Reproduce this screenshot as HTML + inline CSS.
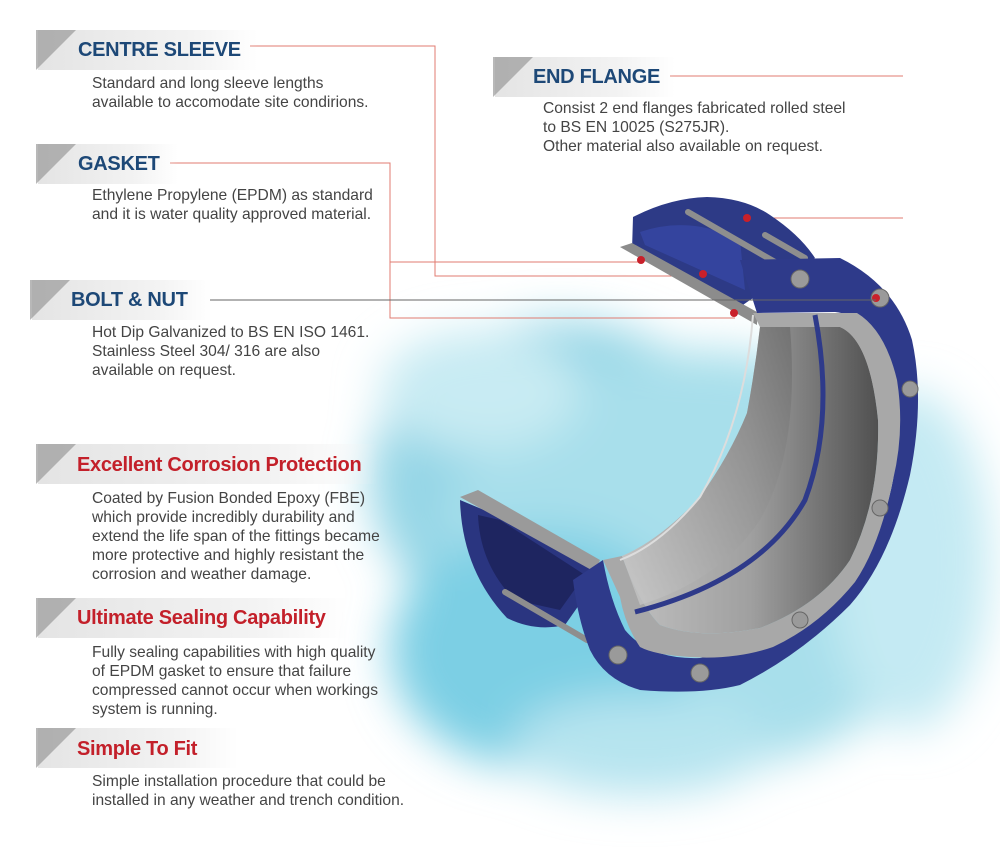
<!DOCTYPE html>
<html><head><meta charset="utf-8"><style>
body{margin:0;width:1000px;height:858px;background:#fff;position:relative;overflow:hidden;font-family:"Liberation Sans",sans-serif}
.bn{position:absolute;height:40px;background:linear-gradient(90deg,#e4e4e4,#f3f3f3 70%,rgba(255,255,255,0));}
.bn:before{content:"";position:absolute;left:-2px;top:0;width:0;height:0;border-top:40px solid #9a9a9a;border-right:40px solid transparent;opacity:.7}
.h{position:absolute;font-weight:bold;font-size:20px;letter-spacing:-0.3px}
.b{color:#1d4877}.r{color:#c3202a;font-size:20px}
.t{position:absolute;font-size:15.6px;line-height:19px;color:#444}
</style></head><body>
<svg width="1000" height="858" style="position:absolute;left:0;top:0">
<defs>
<filter id="bl" x="-30%" y="-30%" width="160%" height="160%"><feGaussianBlur stdDeviation="22"/></filter>
<linearGradient id="g" x1="0" y1="0" x2="1" y2="0"><stop offset="0" stop-color="#c0c0c0"/><stop offset=".5" stop-color="#a0a0a0"/><stop offset="1" stop-color="#505050"/></linearGradient>
<linearGradient id="g2" x1="0" y1="1" x2="1" y2="0"><stop offset="0" stop-color="#cccccc"/><stop offset="1" stop-color="#6a6a6a"/></linearGradient>
</defs>
<g filter="url(#bl)">
<ellipse cx="560" cy="480" rx="190" ry="160" fill="#95d6e6"/>
<ellipse cx="700" cy="560" rx="260" ry="210" fill="#a8dfeb"/>
<ellipse cx="540" cy="650" rx="150" ry="120" fill="#7ccfe4"/>
<ellipse cx="640" cy="745" rx="130" ry="50" fill="#b6e4ef"/>
<ellipse cx="910" cy="560" rx="80" ry="170" fill="#c4eaf3"/>
<ellipse cx="480" cy="390" rx="100" ry="60" fill="#c8ebf3"/>
</g>
<!-- lines -->
<g stroke="#e07b70" fill="none" stroke-width="1">
<polyline points="250,46 435,46 435,276 703,276"/>
<polyline points="170,163 390,163 390,318 735,318"/>
<line x1="390" y1="262" x2="640" y2="262"/>
<line x1="670" y1="76" x2="903" y2="76"/>
<line x1="745" y1="218" x2="903" y2="218"/>
</g>
<!-- top back flange piece -->
<path d="M633,217 Q670,198 707,197 Q745,198 770,215 Q800,235 815,258 L750,300 L740,307 L632,250 Z" fill="#2d3a86"/>
<path d="M640,232 Q690,215 740,240 L745,290 L645,245Z" fill="#34449e"/>
<path d="M620,247 L632,243 L757,312 L757,325 Z" fill="#8c8c8c"/>
<line x1="688" y1="212" x2="775" y2="262" stroke="#8e8e8e" stroke-width="6" stroke-linecap="round"/>
<line x1="765" y1="235" x2="805" y2="258" stroke="#8e8e8e" stroke-width="6" stroke-linecap="round"/>
<!-- bottom-left back piece -->
<path d="M460,500 Q462,570 507,618 Q535,632 565,625 L600,575 L520,525 Z" fill="#2a3580"/>
<path d="M478,515 Q480,565 515,600 L560,610 L585,575 L500,520Z" fill="#1e2560"/>
<path d="M460,497 L478,490 L600,560 L595,572 Z" fill="#9a9a9a"/>
<line x1="505" y1="592" x2="587" y2="640" stroke="#8e8e8e" stroke-width="6" stroke-linecap="round"/>
<!-- main front flange -->
<path d="M740,260 L840,258 Q895,285 912,340 Q925,400 910,475 Q890,560 850,605 Q800,655 740,685 Q700,695 640,690 Q605,680 590,650 Q578,620 573,580 L603,560 Q610,600 625,630 Q650,660 700,658 Q770,645 830,600 Q880,550 893,480 Q905,400 885,350 Q865,315 835,312 L757,313 Z" fill="#2e3a8a"/>
<!-- gray rim -->
<path d="M753,313 L857,313 Q885,330 897,380 Q905,430 893,480 Q880,545 855,582 Q820,625 773,647 Q735,660 690,657 Q655,655 640,647 Q625,625 620,597 L603,560 L622,556 Q640,605 660,625 Q700,640 760,628 Q820,605 850,560 Q880,500 878,420 Q870,340 840,327 L760,327 Z" fill="#a8a8a8"/>
<!-- interior -->
<path d="M760,327 L840,327 Q870,340 878,420 Q880,500 850,560 Q820,605 760,628 Q700,640 660,625 Q640,605 622,556 Q660,540 700,497 Q730,455 747,413 Q755,370 760,327Z" fill="url(#g)"/>
<path d="M622,556 Q660,540 700,497 Q730,455 747,413 Q755,370 760,327 L790,327 Q800,450 760,520 Q720,580 640,605Z" fill="url(#g2)" opacity=".7"/>
<path d="M815,315 Q835,420 805,500 Q760,580 635,612" stroke="#2e3a8a" stroke-width="5" fill="none"/>
<path d="M753,315 Q745,420 700,497 Q660,545 620,560" stroke="#ddd" stroke-width="2" fill="none"/>
<g fill="#9a9a9a" stroke="#666"><circle cx="800" cy="279" r="9"/><circle cx="880" cy="298" r="9"/><circle cx="910" cy="389" r="8"/><circle cx="880" cy="508" r="8"/><circle cx="800" cy="620" r="8"/><circle cx="700" cy="673" r="9"/><circle cx="618" cy="655" r="9"/></g>
<g fill="#c9202a"><circle cx="641" cy="260" r="4"/><circle cx="703" cy="274" r="4"/><circle cx="734" cy="313" r="4"/><circle cx="876" cy="298" r="4"/><circle cx="747" cy="218" r="4"/></g>
<line x1="210" y1="300" x2="876" y2="300" stroke="#666" stroke-width="1"/>
</svg>
<div class="bn" style="left:38px;top:30px;width:220px"></div><div class="h b" style="left:78px;top:39px">CENTRE SLEEVE</div>
<div class="t" style="left:92px;top:74px">Standard and long sleeve lengths<br>available to accomodate site condirions.</div>
<div class="bn" style="left:38px;top:144px;width:140px"></div><div class="h b" style="left:78px;top:153px">GASKET</div>
<div class="t" style="left:92px;top:186px">Ethylene Propylene (EPDM) as standard<br>and it is water quality approved material.</div>
<div class="bn" style="left:32px;top:280px;width:180px"></div><div class="h b" style="left:71px;top:289px">BOLT &amp; NUT</div>
<div class="t" style="left:92px;top:323px">Hot Dip Galvanized to BS EN ISO 1461.<br>Stainless Steel 304/ 316 are also<br>available on request.</div>
<div class="bn" style="left:495px;top:57px;width:180px"></div><div class="h b" style="left:533px;top:66px">END FLANGE</div>
<div class="t" style="left:543px;top:99px">Consist 2 end flanges fabricated rolled steel<br>to BS EN 10025 (S275JR).<br>Other material also available on request.</div>
<div class="bn" style="left:38px;top:444px;width:340px"></div><div class="h r" style="left:77px;top:454px">Excellent Corrosion Protection</div>
<div class="t" style="left:92px;top:489px">Coated by Fusion Bonded Epoxy (FBE)<br>which provide incredibly durability and<br>extend the life span of the fittings became<br>more protective and highly resistant the<br>corrosion and weather damage.</div>
<div class="bn" style="left:38px;top:598px;width:310px"></div><div class="h r" style="left:77px;top:607px">Ultimate Sealing Capability</div>
<div class="t" style="left:92px;top:643px">Fully sealing capabilities with high quality<br>of EPDM gasket to ensure that failure<br>compressed cannot occur when workings<br>system is running.</div>
<div class="bn" style="left:38px;top:728px;width:200px"></div><div class="h r" style="left:77px;top:738px">Simple To Fit</div>
<div class="t" style="left:92px;top:772px">Simple installation procedure that could be<br>installed in any weather and trench condition.</div>
</body></html>
